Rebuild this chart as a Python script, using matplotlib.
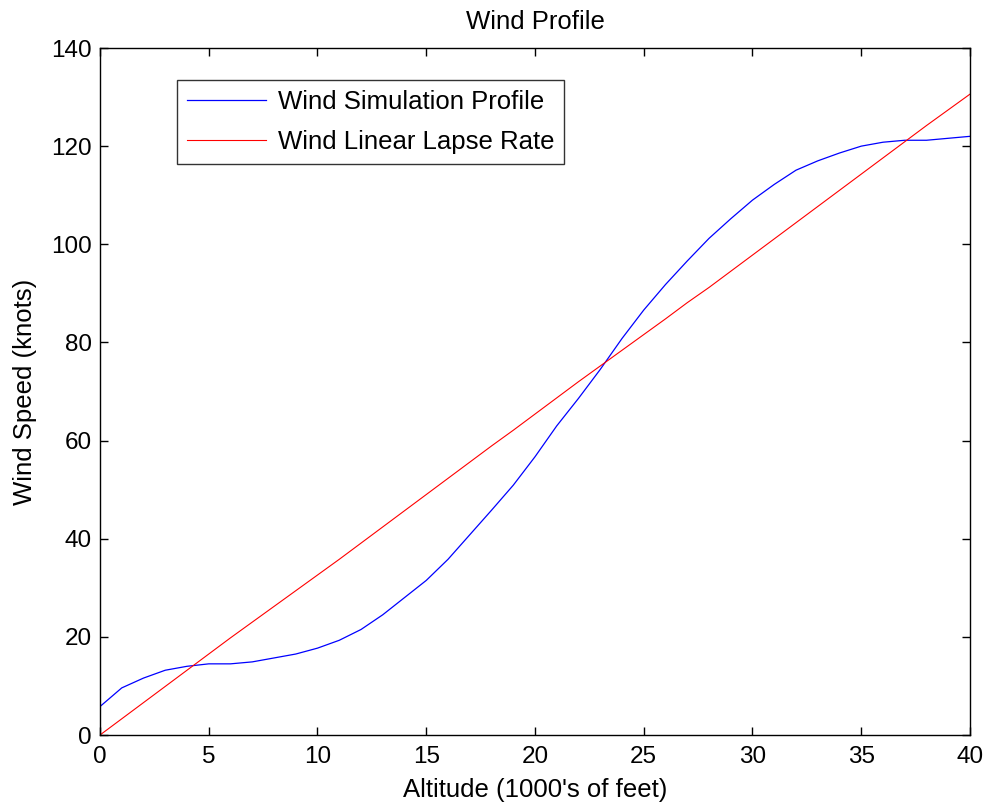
import matplotlib.pyplot as plt
import matplotlib.ticker

# Altitude in thousands of feet
altitude = list(range(0, 41))

# Wind speed from the simulation profile (knots)
wind_sim = [5.8, 9.6, 11.6, 13.2, 14.0, 14.5, 14.5, 14.9, 15.7, 16.5,
            17.7, 19.3, 21.5, 24.5, 28.0, 31.5, 35.8, 40.8, 45.8, 50.9,
            56.7, 63.0, 68.6, 74.5, 80.8, 86.6, 91.8, 96.6, 101.2, 105.2,
            109.0, 112.2, 115.1, 117.0, 118.6, 120.0, 120.8, 121.2, 121.2, 121.6,
            122.0]

# Wind speed from the linear lapse rate (knots)
wind_lapse = [0.0, 3.3, 6.6, 9.9, 13.2, 16.5, 19.8, 23.0, 26.2, 29.4,
              32.6, 35.8, 39.1, 42.4, 45.7, 49.0, 52.3, 55.6, 58.9, 62.1,
              65.4, 68.7, 72.0, 75.2, 78.4, 81.6, 84.8, 88.1, 91.2, 94.5,
              97.8, 101.1, 104.4, 107.7, 111.0, 114.3, 117.6, 120.9, 124.2, 127.4,
              130.6]

plt.rcParams['font.family'] = ['Liberation Sans', 'DejaVu Sans']

fig = plt.figure(figsize=(9.87, 8.06), dpi=100)
ax = fig.add_axes([100 / 987, 71 / 806, 870 / 987, 687 / 806])

ax.plot(altitude, wind_sim, color='blue', linewidth=0.9, label='Wind Simulation Profile')
ax.plot(altitude, wind_lapse, color='red', linewidth=0.8, label='Wind Linear Lapse Rate')

ax.set_xlim(0, 40)
ax.set_ylim(0, 140)
ax.xaxis.set_major_locator(matplotlib.ticker.MultipleLocator(5))
ax.yaxis.set_major_locator(matplotlib.ticker.MultipleLocator(20))
ax.tick_params(direction='in', length=6, width=1, top=True, right=True,
               labelsize=17.5)
ax.tick_params(axis='x', pad=8)
ax.tick_params(axis='y', pad=6)
for spine in ax.spines.values():
    spine.set_linewidth(1.0)

ax.set_title('Wind Profile', fontsize=18.5, pad=14)
ax.set_xlabel("Altitude (1000's of feet)", fontsize=18.5, labelpad=7)
ax.set_ylabel('Wind Speed (knots)', fontsize=18.5, labelpad=10)

leg = ax.legend(loc='upper left', bbox_to_anchor=(77 / 870, 1 - 32 / 687),
                borderaxespad=0, fontsize=18.5, handlelength=3.1, frameon=True,
                fancybox=False, borderpad=0.38, labelspacing=0.65, handletextpad=0.45)
leg.get_frame().set_edgecolor('black')
leg.get_frame().set_linewidth(1.0)

plt.savefig('out.png', dpi=100)
